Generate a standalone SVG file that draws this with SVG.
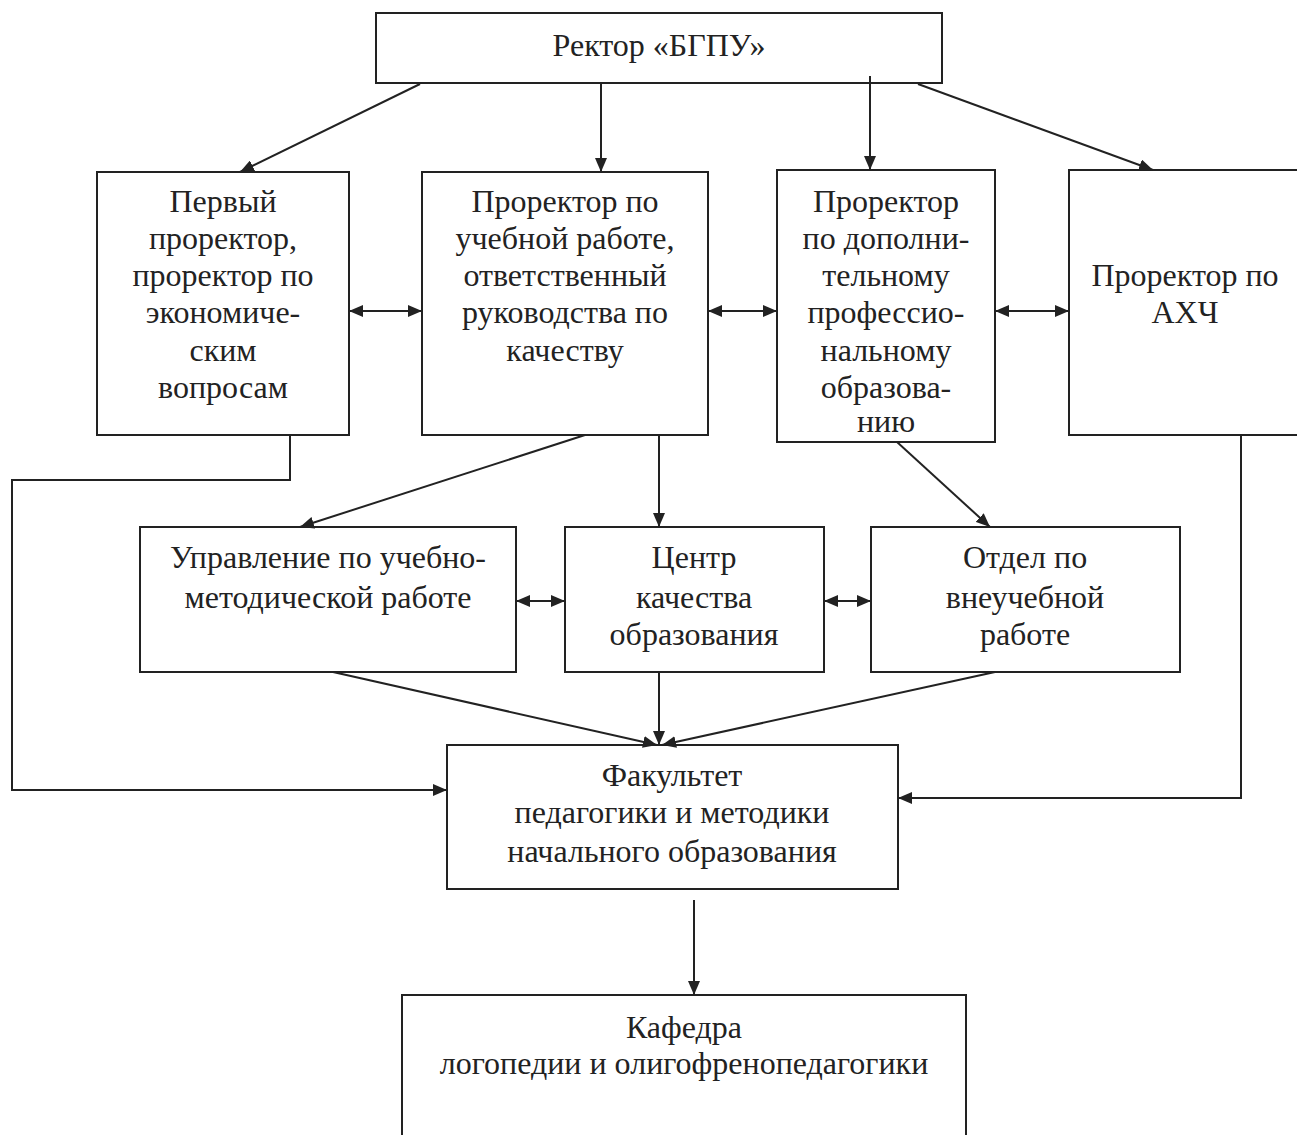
<svg xmlns="http://www.w3.org/2000/svg" width="1297" height="1135" viewBox="0 0 1297 1135">
<style>
rect.b{fill:none;stroke:#222;stroke-width:2}
text{font-family:"Liberation Serif","Times New Roman",serif;font-size:32px;fill:#222;text-anchor:middle}
.c path,.c line,.c polyline{fill:none;stroke:#222;stroke-width:2}
</style>
<defs>
<marker id="ah" viewBox="0 0 14 12" refX="14" refY="6" markerWidth="14" markerHeight="12" markerUnits="userSpaceOnUse" orient="auto-start-reverse">
<path d="M0,0 L14,6 L0,12 Z" fill="#222"/>
</marker>
</defs>
<rect width="1297" height="1135" fill="#fff"/>
<g id="rector"><rect class="b" x="376" y="13" width="566" height="70"/><text x="659" y="56">Ректор «БГПУ»</text></g>
<g id="first">
<rect class="b" x="97" y="172" width="252" height="263"/>
<text x="223" y="212">Первый</text><text x="223" y="249">проректор,</text><text x="223" y="286">проректор по</text><text x="223" y="323">экономиче-</text><text x="223" y="361">ским</text><text x="223" y="398">вопросам</text>
</g>
<g id="study">
<rect class="b" x="422" y="172" width="286" height="263"/>
<text x="565" y="212">Проректор по</text><text x="565" y="249">учебной работе,</text><text x="565" y="286">ответственный</text><text x="565" y="323">руководства по</text><text x="565" y="361">качеству</text>
</g>
<g id="dpo">
<rect class="b" x="777" y="170" width="218" height="272"/>
<text x="886" y="212">Проректор</text><text x="886" y="249">по дополни-</text><text x="886" y="286">тельному</text><text x="886" y="323">профессио-</text><text x="886" y="361">нальному</text><text x="886" y="398">образова-</text><text x="886" y="432">нию</text>
</g>
<g id="ahch">
<rect class="b" x="1069" y="170" width="240" height="265"/>
<text x="1185" y="286">Проректор по</text><text x="1185" y="323">АХЧ</text>
</g>
<g id="umr">
<rect class="b" x="140" y="527" width="376" height="145"/>
<text x="328" y="568">Управление по учебно-</text><text x="328" y="608">методической работе</text>
</g>
<g id="center">
<rect class="b" x="565" y="527" width="259" height="145"/>
<text x="694" y="568">Центр</text><text x="694" y="608">качества</text><text x="694" y="645">образования</text>
</g>
<g id="otdel">
<rect class="b" x="871" y="527" width="309" height="145"/>
<text x="1025" y="568">Отдел по</text><text x="1025" y="608">внеучебной</text><text x="1025" y="645">работе</text>
</g>
<g id="faculty">
<rect class="b" x="447" y="745" width="451" height="144"/>
<text x="672" y="786">Факультет</text><text x="672" y="823">педагогики и методики</text><text x="672" y="862">начального образования</text>
</g>
<g id="kafedra">
<rect class="b" x="402" y="995" width="564" height="150"/>
<text x="684" y="1038">Кафедра</text><text x="684" y="1074">логопедии и олигофренопедагогики</text>
</g>
<g id="connectors" class="c">
<line x1="420" y1="84" x2="240" y2="172" marker-end="url(#ah)"/>
<line x1="601" y1="84" x2="601" y2="172" marker-end="url(#ah)"/>
<line x1="870" y1="76" x2="870" y2="170" marker-end="url(#ah)"/>
<line x1="918" y1="84" x2="1153" y2="170" marker-end="url(#ah)"/>
<line x1="349" y1="311" x2="422" y2="311" marker-start="url(#ah)" marker-end="url(#ah)"/>
<line x1="708" y1="311" x2="777" y2="311" marker-start="url(#ah)" marker-end="url(#ah)"/>
<line x1="995" y1="311" x2="1069" y2="311" marker-start="url(#ah)" marker-end="url(#ah)"/>
<polyline points="290,435 290,480 12,480 12,790 447,790" marker-end="url(#ah)"/>
<line x1="585" y1="435" x2="300" y2="527" marker-end="url(#ah)"/>
<line x1="659" y1="435" x2="659" y2="527" marker-end="url(#ah)"/>
<line x1="897" y1="442" x2="990" y2="527" marker-end="url(#ah)"/>
<polyline points="1241,435 1241,798 898,798" marker-end="url(#ah)"/>
<line x1="516" y1="601" x2="565" y2="601" marker-start="url(#ah)" marker-end="url(#ah)"/>
<line x1="824" y1="601" x2="871" y2="601" marker-start="url(#ah)" marker-end="url(#ah)"/>
<line x1="333" y1="672" x2="657" y2="745" marker-end="url(#ah)"/>
<line x1="659" y1="672" x2="659" y2="745" marker-end="url(#ah)"/>
<line x1="995" y1="672" x2="662" y2="745" marker-end="url(#ah)"/>
<line x1="694" y1="900" x2="694" y2="995" marker-end="url(#ah)"/>
</g>
</svg>
